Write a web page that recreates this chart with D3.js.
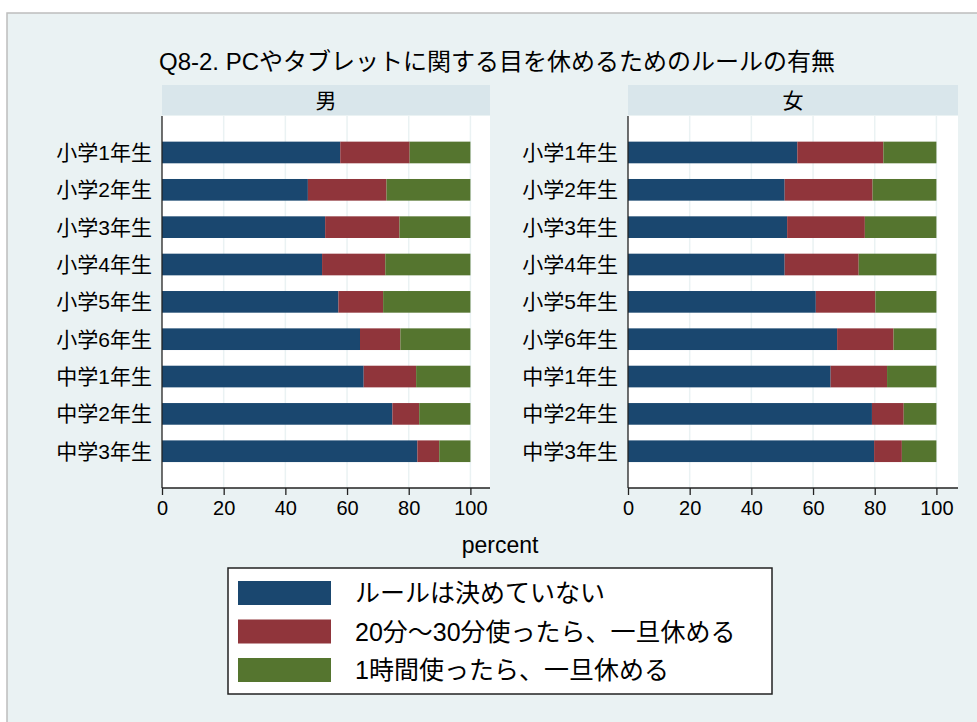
<!DOCTYPE html>
<html>
<head>
<meta charset="utf-8">
<script src="https://cdn.jsdelivr.net/npm/d3@7"></script>
<style>
  html, body { margin: 0; padding: 0; background: #ffffff; }
  svg { display: block; }
  text { font-family: "Liberation Sans", Arial, "Noto Sans CJK JP", sans-serif; fill: #000; }
</style>
</head>
<body>
<svg id="chart" width="977" height="722"></svg>
<script>
// Grades (rows, top to bottom)
const grades = ["小学1年生", "小学2年生", "小学3年生", "小学4年生", "小学5年生",
                "小学6年生", "中学1年生", "中学2年生", "中学3年生"];
// Panels
const panelNames = ["男", "女"];
// Response categories (stack order, left to right)
const seriesNames = ["ルールは決めていない", "20分～30分使ったら、一旦休める", "1時間使ったら、一旦休める"];
const seriesColors = ["#1a476f", "#90353b", "#55752f"];

// Percentages, boys
const boyNone  = [57.8, 47.3, 52.9, 51.9, 57.2, 64.2, 65.4, 74.7, 82.8];
const boy2030  = [22.5, 25.5, 24.1, 20.5, 14.5, 13.1, 17.0,  8.7,  7.1];
const boy1h    = [19.7, 27.2, 23.0, 27.6, 28.3, 22.7, 17.6, 16.6, 10.1];
// Percentages, girls
const girlNone = [54.9, 50.8, 51.6, 50.8, 60.9, 67.8, 65.7, 79.1, 79.8];
const girl2030 = [27.9, 28.5, 25.2, 24.0, 19.3, 18.3, 18.3, 10.3,  9.0];
const girl1h   = [17.2, 20.7, 23.2, 25.2, 19.8, 13.9, 16.0, 10.6, 11.2];

// X axis ticks
const xTicks = [0, 20, 40, 60, 80, 100];

const titleText = "Q8-2. PCやタブレットに関する目を休めるためのルールの有無";
const xTitle = "percent";

const svg = d3.select("#chart");

// Graph region
svg.append("rect").attr("x", 7).attr("y", 13).attr("width", 980).attr("height", 720)
  .attr("fill", "#eaf2f3").attr("stroke", "#bdbdbd").attr("stroke-width", 1.5);

// Title
svg.append("text").attr("x", 497).attr("y", 70).attr("text-anchor", "middle")
  .attr("font-size", 24).text(titleText);

const plotTop = 116, plotBottom = 488;
const keys = ["none", "m2030", "h1"];
const panelData = [
  grades.map((g, i) => ({ grade: g, none: boyNone[i], m2030: boy2030[i], h1: boy1h[i] })),
  grades.map((g, i) => ({ grade: g, none: girlNone[i], m2030: girl2030[i], h1: girl1h[i] }))
];
const panelLayout = [{ left: 162, width: 328 }, { left: 628, width: 330 }];

const y = d3.scaleBand().domain(grades).range([133.8, 469.9])
  .paddingInner(0.42).paddingOuter(0.21);

const stack = d3.stack().keys(keys);

panelLayout.forEach((p, pi) => {
  const g = svg.append("g").attr("transform", `translate(${p.left},0)`);
  const x = d3.scaleLinear().domain([0, 100]).range([0, 308.4]);

  // Strip header
  g.append("rect").attr("x", 0).attr("y", 85).attr("width", p.width).attr("height", 30)
    .attr("fill", "#d9e6eb");
  g.append("text").attr("x", p.width / 2).attr("y", 108).attr("text-anchor", "middle")
    .attr("font-size", 21).text(panelNames[pi]);

  // Plot region
  g.append("rect").attr("x", 0).attr("y", plotTop).attr("width", p.width)
    .attr("height", plotBottom - plotTop).attr("fill", "#ffffff");

  // Grid lines
  g.selectAll("line.grid").data(xTicks.filter(t => t > 0)).join("line")
    .attr("class", "grid")
    .attr("x1", d => x(d)).attr("x2", d => x(d))
    .attr("y1", plotTop).attr("y2", plotBottom)
    .attr("stroke", "#eaf2f3").attr("stroke-width", 1.5);

  // Stacked bars
  const layers = stack(panelData[pi]);
  g.selectAll("g.layer").data(layers).join("g")
    .attr("class", "layer")
    .attr("fill", (d, i) => seriesColors[i])
    .selectAll("rect").data(d => d).join("rect")
    .attr("x", d => x(d[0]))
    .attr("width", d => x(d[1]) - x(d[0]))
    .attr("y", d => y(d.data.grade))
    .attr("height", y.bandwidth());

  // Category labels
  g.selectAll("text.cat").data(grades).join("text")
    .attr("class", "cat")
    .attr("x", -10).attr("y", d => y(d) + y.bandwidth() / 2)
    .attr("dy", "0.36em").attr("text-anchor", "end")
    .attr("font-size", 21).text(d => d);

  // Left axis line
  g.append("line").attr("x1", 0).attr("x2", 0).attr("y1", plotTop).attr("y2", plotBottom)
    .attr("stroke", "#222").attr("stroke-width", 1.3);

  // Bottom axis
  const axis = d3.axisBottom(x).tickValues(xTicks).tickSize(7).tickPadding(6)
    .tickFormat(d3.format("d"));
  const ax = g.append("g").attr("transform", `translate(0,${plotBottom})`).call(axis);
  ax.select(".domain").remove();
  ax.append("line").attr("x1", 0).attr("x2", p.width).attr("y1", 0).attr("y2", 0)
    .attr("stroke", "#222").attr("stroke-width", 1.3);
  ax.selectAll(".tick line").attr("stroke", "#222").attr("stroke-width", 1.3);
  ax.selectAll(".tick text").attr("font-size", 20).attr("fill", "#000")
    .attr("font-family", "'Liberation Sans', Arial, sans-serif");
});

// Axis title
svg.append("text").attr("x", 500).attr("y", 553).attr("text-anchor", "middle")
  .attr("font-size", 23).text(xTitle);

// Legend
const legend = svg.append("g");
legend.append("rect").attr("x", 228).attr("y", 568).attr("width", 544).attr("height", 126)
  .attr("fill", "#ffffff").attr("stroke", "#222").attr("stroke-width", 1.5);
const legendY = d3.scalePoint().domain(seriesNames).range([593, 670]);
seriesNames.forEach((name, i) => {
  legend.append("rect").attr("x", 238).attr("y", legendY(name) - 12)
    .attr("width", 93).attr("height", 24).attr("fill", seriesColors[i]);
  legend.append("text").attr("x", 355).attr("y", legendY(name)).attr("dy", "0.36em")
    .attr("font-size", 25).text(name);
});
</script>
</body>
</html>
